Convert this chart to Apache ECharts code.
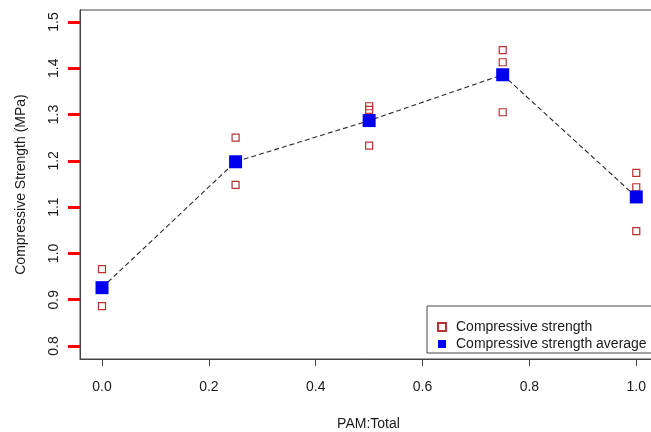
<!DOCTYPE html>
<html>
<head>
<meta charset="utf-8">
<script src="https://cdn.jsdelivr.net/npm/echarts@6/dist/echarts.min.js"></script>
<style>
  html, body { margin: 0; padding: 0; background: #fff; }
  #main { width: 651px; height: 432px; }
</style>
</head>
<body>
<div id="main"></div>
<script>
// PAM:Total ratios
var ratios = [0.0, 0.25, 0.5, 0.75, 1.0];
// replicate measurements (MPa), three per ratio
var rep1 = [0.966, 1.250, 1.318, 1.439, 1.174];
var rep2 = [0.925, 1.196, 1.310, 1.413, 1.143];
var rep3 = [0.886, 1.148, 1.233, 1.305, 1.048];
// averages
var averages = [0.926, 1.198, 1.287, 1.386, 1.122];
// tick labels
var xTicks = [0.0, 0.2, 0.4, 0.6, 0.8, 1.0];
var yTicks = [0.8, 0.9, 1.0, 1.1, 1.2, 1.3, 1.4, 1.5];

var textColor = '#1a1a1a';
var lineColor = '#444';
var font = 'Liberation Sans, Arial, sans-serif';
var yMin = 0.7719, yMax = 1.5259;

var points = [];
[rep1, rep2, rep3].forEach(function (rep) {
    rep.forEach(function (v, i) { points.push([ratios[i], v]); });
});
var avgPoints = ratios.map(function (r, i) { return [r, averages[i]]; });

var myChart = echarts.init(document.getElementById('main'));
myChart.setOption({
    animation: false,
    textStyle: { fontFamily: font },
    grid: {
        left: 80,
        top: 10,
        width: 577,
        height: 349,
        outerBoundsMode: 'none',
        show: true,
        borderColor: lineColor,
        borderWidth: 1
    },
    legend: {
        orient: 'vertical',
        left: 427,
        top: 306,
        padding: [13, 40, 1, 10],
        itemGap: 1,
        itemWidth: 8,
        itemHeight: 8,
        backgroundColor: '#fff',
        borderColor: lineColor,
        borderWidth: 1,
        borderRadius: 0,
        data: ['Compressive strength', 'Compressive strength average'],
        textStyle: { fontSize: 14, color: textColor, lineHeight: 16, fontFamily: font, padding: [0, 0, 0, 5] }
    },
    xAxis: {
        type: 'value',
        min: -0.0412,
        max: 1.0388,
        name: 'PAM:Total',
        nameLocation: 'middle',
        nameGap: 58,
        nameTextStyle: { fontSize: 14, color: textColor, fontFamily: font },
        axisLine: { show: true, lineStyle: { color: lineColor } },
        splitLine: { show: false },
        axisTick: {
            show: true,
            length: 7,
            customValues: xTicks,
            lineStyle: { color: lineColor }
        },
        axisLabel: {
            customValues: xTicks,
            margin: 21,
            fontSize: 14,
            color: textColor,
            formatter: function (v) { return v.toFixed(1); }
        }
    },
    yAxis: [{
        // labels and title
        type: 'value',
        position: 'left',
        min: yMin,
        max: yMax,
        name: 'Compressive Strength (MPa)',
        nameLocation: 'middle',
        nameGap: 52,
        nameTextStyle: { fontSize: 14, color: textColor, fontFamily: font },
        axisLine: { show: true, onZero: false, lineStyle: { color: lineColor } },
        splitLine: { show: false },
        axisTick: { show: false },
        axisLabel: {
            customValues: yTicks,
            rotate: 90,
            margin: 19,
            fontSize: 14,
            color: textColor,
            formatter: function (v) { return v.toFixed(1); }
        }
    }, {
        // tick marks only
        type: 'value',
        position: 'left',
        offset: 0,
        min: yMin,
        max: yMax,
        axisLine: { show: true, onZero: false, lineStyle: { color: lineColor } },
        splitLine: { show: false },
        axisTick: {
            show: true,
            length: 12,
            customValues: yTicks,
            lineStyle: { color: 'red', width: 3 }
        },
        axisLabel: { show: false }
    }],
    series: [{
        name: 'Compressive strength',
        type: 'scatter',
        symbol: 'rect',
        symbolSize: 7,
        itemStyle: { color: 'rgba(255,255,255,0)', borderColor: '#b83232', borderWidth: 1.2, opacity: 1 },
        data: points,
        z: 2
    }, {
        name: 'trend',
        type: 'line',
        symbol: 'none',
        lineStyle: { color: '#2a2a2a', width: 1.1, type: [5, 3] },
        data: avgPoints,
        z: 3
    }, {
        name: 'Compressive strength average',
        type: 'scatter',
        symbol: 'rect',
        symbolSize: 13,
        itemStyle: { color: '#0000ee', opacity: 1 },
        data: avgPoints,
        z: 4
    }]
});
</script>
</body>
</html>
